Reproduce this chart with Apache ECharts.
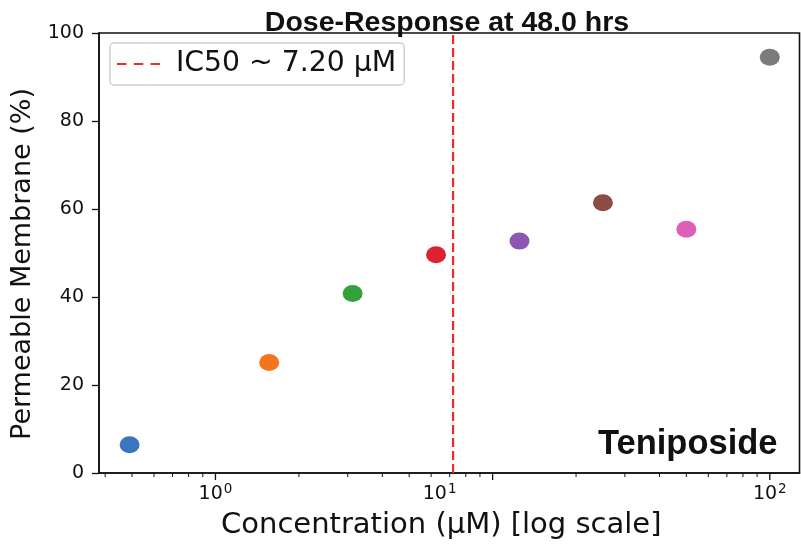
<!DOCTYPE html>
<html>
<head>
<meta charset="utf-8">
<script src="https://cdn.jsdelivr.net/npm/echarts@6/dist/echarts.min.js"></script>
<style>
  html, body { margin: 0; padding: 0; background: #fff; }
  #chart { width: 801px; height: 546px; }
</style>
</head>
<body>
<div id="chart"></div>
<script>
// Dose-response of Teniposide after 48 h: membrane permeability vs. concentration
const concentrations = [0.49, 1.5625, 3.125, 6.25, 12.5, 25, 50, 100];   // µM
const permeable = [6.4, 25.1, 40.8, 49.6, 52.7, 61.4, 55.4, 94.5];       // %
const pointColors = ['#3a76c0', '#f5741e', '#34a23a', '#dc2230', '#8e56b3', '#8b4c46', '#dd5fba', '#7b7b7b'];
const ic50 = 7.2;                                                         // µM
const majorTicks = [1, 10, 100];
const minorTicks = [0.4, 0.5, 0.6, 0.7, 0.8, 0.9, 2, 3, 4, 5, 6, 7, 8, 9, 20, 30, 40, 50, 60, 70, 80, 90];
const yTicks = [0, 20, 40, 60, 80, 100];

const drugName = 'Teniposide';
const hours = 48.0;
const icName = 'IC50 ~ ' + ic50.toFixed(2) + ' \u03bcM';
const icColor = '#ee2a2f';

// three-dash legend glyph for the IC50 line
const dashIcon = 'path://M0,0h9.5v2.2h-9.5z M16.75,0h9.5v2.2h-9.5z M33.5,0h9.5v2.2h-9.5z';

const chart = echarts.init(document.getElementById('chart'), null, { renderer: 'canvas' });

const tickData = majorTicks.map(v => [v, 1]).concat(minorTicks.map(v => [v, 0]));

chart.setOption({
  animation: false,
  textStyle: { fontFamily: 'DejaVu Sans' },
  title: [
    {
      text: 'Dose-Response at ' + hours.toFixed(1) + ' hrs',
      left: 442, top: 4, textAlign: 'center',
      textStyle: { fontFamily: 'Liberation Sans', fontWeight: 'bold', fontSize: 28.5, color: '#111' }
    },
    {
      text: drugName,
      right: 18.5, top: 421.5,
      textStyle: { fontFamily: 'Liberation Sans', fontWeight: 'bold', fontSize: 34.5, color: '#111' }
    }
  ],
  legend: {
    data: [{ name: icName, icon: dashIcon }],
    left: 110, top: 43,
    padding: [7, 8, 7, 7],
    itemWidth: 43, itemHeight: 2.2,
    itemStyle: { color: icColor },
    backgroundColor: '#fff',
    borderColor: '#d0d0d0', borderWidth: 1.5, borderRadius: 4,
    textStyle: { fontFamily: 'DejaVu Sans', fontSize: 28.3, color: '#111', padding: [0, 0, 0, 11] }
  },
  grid: {
    left: 99, right: 1.5, top: 33, bottom: 73,
    show: true, borderColor: '#111', borderWidth: 1.6, backgroundColor: 'transparent'
  },
  xAxis: {
    type: 'log', logBase: 10, min: 0.38, max: 128,
    name: 'Concentration (\u03bcM) [log scale]',
    nameLocation: 'middle', nameGap: 38,
    nameTextStyle: { fontFamily: 'DejaVu Sans', fontSize: 29, color: '#111', padding: [0, 16, 0, 0] },
    axisLine: { lineStyle: { color: '#111', width: 1.6 } },
    axisTick: { show: false },
    splitLine: { show: false },
    axisLabel: {
      showMinLabel: false, showMaxLabel: false,
      margin: 9, color: '#111',
      formatter: function (v) {
        const e = Math.round(Math.log10(v));
        if (Math.abs(Math.log10(v) - e) > 1e-6) return '';
        return '{b|10}{' + (e === 1 ? 'p1' : 'p') + '|' + e + '}';
      },
      rich: {
        b: { fontSize: 19, color: '#111' },
        p: { fontSize: 13.5, color: '#111', padding: [0, 0, 10, 1] },
        p1: { fontSize: 13.5, color: '#111', padding: [0, 106, 10, 1] }
      }
    }
  },
  yAxis: {
    type: 'value', min: yTicks[0], max: yTicks[yTicks.length - 1], interval: yTicks[1] - yTicks[0],
    name: 'Permeable Membrane (%)',
    nameLocation: 'middle', nameGap: 49,
    nameTextStyle: { fontFamily: 'DejaVu Sans', fontSize: 27, color: '#111', padding: [0, 22, 0, 0] },
    axisLine: { show: true, lineStyle: { color: '#111', width: 1.6 } },
    axisTick: { show: true, length: 7, lineStyle: { color: '#111', width: 1.3 } },
    splitLine: { show: false },
    axisLabel: { margin: 15, color: '#111', fontSize: 19 }
  },
  series: [
    {
      name: icName,
      type: 'line',
      data: [[ic50, yTicks[0]], [ic50, yTicks[yTicks.length - 1]]],
      symbol: 'none',
      itemStyle: { color: icColor },
      lineStyle: { color: icColor, width: 2.2, type: [9, 4] },
      z: 2
    },
    {
      name: 'points',
      type: 'scatter',
      symbol: 'circle',
      symbolSize: [20, 17],
      data: concentrations.map((c, i) => ({
        value: [c, permeable[i]],
        itemStyle: { color: pointColors[i], opacity: 1 }
      })),
      z: 3
    },
    {
      name: 'xticks',
      type: 'custom',
      clip: false,
      silent: true,
      data: tickData,
      renderItem: function (params, api) {
        const p = api.coord([api.value(0), 0]);
        const major = api.value(1) === 1;
        return {
          type: 'line',
          shape: { x1: p[0], y1: p[1], x2: p[0], y2: p[1] + (major ? 7 : 4) },
          style: { stroke: '#111', lineWidth: major ? 1.3 : 1 }
        };
      },
      z: 4
    }
  ]
});
</script>
</body>
</html>
